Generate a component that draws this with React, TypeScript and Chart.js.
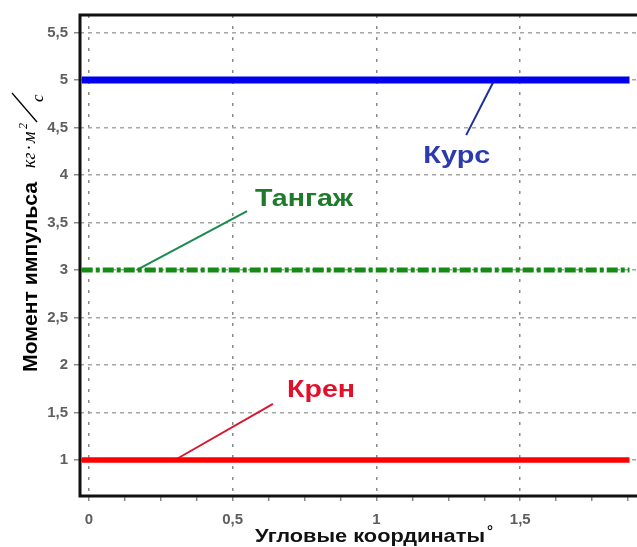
import { useEffect, useRef } from 'react';
import { Chart, registerables } from 'chart.js';

Chart.register(...registerables);

// ---- data ----
const lineX = [-0.025, 1.88];
const kursValues = [5, 5];
const tangazhValues = [3, 3];
const krenValues = [1, 1];

const kursLeaderX = [1.312, 1.41];
const kursLeaderY = [4.42, 5.0];
const tangazhLeaderX = [0.167, 0.55];
const tangazhLeaderY = [3.0, 3.62];
const krenLeaderX = [0.299, 0.64];
const krenLeaderY = [1.0, 1.59];

const labelNames = ['Курс', 'Тангаж', 'Крен'];
const labelX = [1.163, 0.578, 0.689];
const labelY = [4.126, 3.674, 1.663];

const yTickValues = [1, 1.5, 2, 2.5, 3, 3.5, 4, 4.5, 5, 5.5];
const xTickValues = [0, 0.125, 0.25, 0.375, 0.5, 0.625, 0.75, 0.875, 1, 1.125, 1.25, 1.375, 1.5, 1.625, 1.75, 1.875, 2];

const yTitleMain = 'Момент импульса';
const xTitleText = 'Угловые координаты';

// ---- helpers ----
const pts = (xs: number[], ys: number[]) => xs.map((x, i) => ({ x, y: ys[i] }));
const isMajor = (v: number) => Math.abs(v * 2 - Math.round(v * 2)) < 1e-6;
const fmt = (v: number) => String(v).replace('.', ',');

function fitText(ctx: CanvasRenderingContext2D, text: string, x: number, y: number, width: number) {
  const w = ctx.measureText(text).width;
  ctx.save();
  ctx.translate(x, y);
  ctx.scale(width / w, 1);
  ctx.fillText(text, 0, 0);
  ctx.restore();
}

const labelColors = ['#2b3aae', '#1f7a2c', '#e3102a'];
const labelWidths = [67, 98, 68];

const decorPlugin = {
  id: 'decor',
  afterDatasetsDraw(chart: any) {
    const ctx: CanvasRenderingContext2D = chart.ctx;
    const { left, top, right, bottom } = chart.chartArea;
    const xs = chart.scales.x;
    const ys = chart.scales.y;
    // frame
    ctx.save();
    ctx.strokeStyle = '#111';
    ctx.lineWidth = 3;
    ctx.strokeRect(left, top, right - left, bottom - top);
    ctx.restore();
    // labels
    ctx.save();
    ctx.textAlign = 'left';
    ctx.textBaseline = 'alphabetic';
    ctx.font = 'bold 24px "Liberation Sans", Arial, sans-serif';
    labelNames.forEach((name, i) => {
      ctx.fillStyle = labelColors[i];
      fitText(ctx, name, xs.getPixelForValue(labelX[i]), ys.getPixelForValue(labelY[i]), labelWidths[i]);
    });
    ctx.restore();
  },
  afterDraw(chart: any) {
    const ctx: CanvasRenderingContext2D = chart.ctx;
    // Y title (rotated)
    ctx.save();
    ctx.translate(31, 372);
    ctx.rotate(-Math.PI / 2);
    ctx.fillStyle = '#000';
    ctx.textAlign = 'left';
    ctx.textBaseline = 'alphabetic';
    ctx.font = 'bold 20px "Liberation Sans", Arial, sans-serif';
    fitText(ctx, yTitleMain, 0, 6, 190);
    ctx.font = 'italic 18px "Liberation Serif", "Times New Roman", serif';
    ctx.fillText('кг', 204, 4);
    ctx.fillText('·', 222, 4);
    ctx.fillText('м', 229, 4);
    ctx.font = 'italic 12px "Liberation Serif", "Times New Roman", serif';
    ctx.fillText('2', 243, -4);
    ctx.strokeStyle = '#000';
    ctx.lineWidth = 1.3;
    ctx.beginPath();
    ctx.moveTo(250, 6);
    ctx.lineTo(279, -19);
    ctx.stroke();
    ctx.font = 'italic 17px "Liberation Serif", "Times New Roman", serif';
    ctx.fillText('с', 270, 12);
    ctx.restore();
    // X title
    ctx.save();
    ctx.fillStyle = '#111';
    ctx.textAlign = 'left';
    ctx.textBaseline = 'alphabetic';
    ctx.font = 'bold 19px "Liberation Sans", Arial, sans-serif';
    fitText(ctx, xTitleText, 255, 542, 230);
    ctx.font = 'bold 15px "Liberation Sans", Arial, sans-serif';
    ctx.fillText('°', 487, 536);
    ctx.restore();
  },
};

export default function App() {
  const ref = useRef<HTMLCanvasElement | null>(null);

  useEffect(() => {
    document.body.style.margin = '0';
    const canvas = ref.current;
    if (!canvas) return;
    const tickFont = { family: '"Liberation Sans", Arial, sans-serif', size: 15, weight: 'bold' as const };
    const chart = new Chart(canvas, {
      type: 'line',
      data: {
        datasets: [
          { label: 'Курс', data: pts(lineX, kursValues), borderColor: '#0000ee', borderWidth: 7, pointRadius: 0, borderCapStyle: 'butt' },
          { label: 'Тангаж', data: pts(lineX, tangazhValues), borderColor: '#148c14', borderWidth: 5, borderDash: [11, 3, 4, 3], pointRadius: 0, borderCapStyle: 'butt' },
          { label: 'Крен', data: pts(lineX, krenValues), borderColor: '#ff0000', borderWidth: 5.5, pointRadius: 0, borderCapStyle: 'butt' },
          { label: 'kl', data: pts(kursLeaderX, kursLeaderY), borderColor: '#1f2f9f', borderWidth: 2, pointRadius: 0 },
          { label: 'tl', data: pts(tangazhLeaderX, tangazhLeaderY), borderColor: '#1b8a50', borderWidth: 2, pointRadius: 0 },
          { label: 'rl', data: pts(krenLeaderX, krenLeaderY), borderColor: '#d8182f', borderWidth: 2, pointRadius: 0 },
        ],
      } as any,
      options: {
        animation: false,
        responsive: false,
        devicePixelRatio: 1,
        layout: { padding: { top: 15, right: 16, left: 0, bottom: 0 } },
        plugins: { legend: { display: false }, tooltip: { enabled: false }, title: { display: false } },
        scales: {
          x: {
            type: 'linear',
            min: -0.031,
            max: 2.0,
            afterBuildTicks: (s: any) => { s.ticks = xTickValues.map((v) => ({ value: v })); },
            afterFit: (s: any) => { s.height = 51; },
            ticks: {
              autoSkip: false,
              maxRotation: 0,
              padding: 10,
              color: '#5e5e5e',
              font: tickFont,
              callback: (v: any) => (isMajor(Number(v)) ? fmt(Number(v)) : ''),
            },
            grid: {
              color: (c: any) => (c.tick && isMajor(c.tick.value) ? '#8a8a8a' : 'rgba(0,0,0,0)'),
              lineWidth: 1.5,
              tickColor: '#8a8a8a',
              tickLength: 5,
              tickWidth: 1.5,
            },
            border: { display: false, dash: [3, 8] },
          },
          y: {
            type: 'linear',
            min: 0.621,
            max: 5.684,
            afterBuildTicks: (s: any) => { s.ticks = yTickValues.map((v) => ({ value: v })); },
            afterFit: (s: any) => { s.width = 80; },
            ticks: {
              autoSkip: false,
              padding: 6,
              color: '#5e5e5e',
              font: tickFont,
              callback: (v: any) => fmt(Number(v)),
            },
            grid: {
              color: '#a6a6a6',
              lineWidth: 1.5,
              tickColor: '#8a8a8a',
              tickLength: 6,
              tickWidth: 1.5,
            },
            border: { display: false, dash: [4, 4] },
          },
        },
      } as any,
      plugins: [decorPlugin],
    });
    return () => chart.destroy();
  }, []);

  return (
    <div style={{ position: 'fixed', left: 0, top: 0, width: 637, height: 547, overflow: 'hidden', background: '#fff' }}>
      <canvas ref={ref} width={680} height={547} style={{ display: 'block', width: 680, height: 547 }} />
    </div>
  );
}
